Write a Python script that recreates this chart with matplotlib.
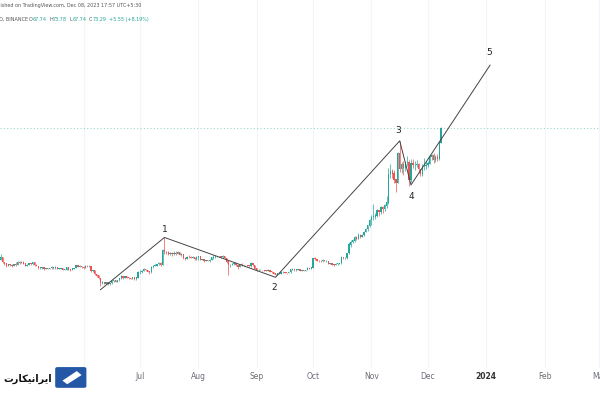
import numpy as np
import pandas as pd
import matplotlib
matplotlib.use("Agg")
from matplotlib import pyplot as plt
import matplotlib.dates as mdates
from matplotlib.patches import FancyBboxPatch, Polygon

# daily SOL candles, 2023-04-18 .. 2023-12-08
start_date = "2023-04-18"
first_open = 23.4

closes = [
    # Apr
    24.3, 22.4, 21.9, 21.0, 21.5, 21.4, 21.0, 21.6, 21.3, 22.4, 22.2, 22.5, 21.9,
    # May
    21.1, 21.4, 21.9, 21.6, 22.3, 21.2, 21.0, 20.1, 20.3, 20.4,
    19.8, 20.1, 20.0, 20.1, 20.5, 20.2, 20.6, 19.9, 20.0, 20.1,
    19.6, 19.6, 20.5, 19.6, 19.4, 20.0, 20.2, 21.3, 20.7, 20.9, 20.6,
    # Jun
    20.4, 21.0, 20.8, 20.9, 19.0, 19.3, 17.8, 17.3, 16.4, 14.6,
    14.7, 14.3, 14.6, 14.1, 14.5, 15.3, 15.4, 15.1, 15.5, 16.2,
    17.0, 16.4, 16.9, 16.6, 16.4, 16.2, 16.6, 15.9, 16.6, 18.6,
    # Jul
    18.7, 19.1, 19.6, 19.3, 18.8, 18.6, 20.6, 21.0, 21.1, 21.6,
    22.0, 21.3, 26.9, 26.3, 26.0, 25.6, 25.9, 25.4, 25.9, 25.7,
    26.2, 25.3, 25.3, 23.9, 23.6, 24.4, 24.3, 24.2, 24.3, 23.5, 24.3,
    # Aug
    24.5, 23.3, 23.5, 22.8, 23.0, 22.9, 23.2, 24.2, 24.3, 24.6,
    24.6, 24.6, 24.3, 24.7, 23.9, 22.6, 21.3, 21.4, 21.6, 21.9,
    21.3, 20.7, 21.7, 21.3, 21.3, 21.2, 21.1, 20.8, 22.1, 21.3, 20.0,
    # Sep
    19.4, 19.5, 19.5, 19.3, 19.2, 19.1, 19.5, 18.8, 18.7, 18.0,
    17.4, 18.1, 18.1, 18.6, 18.6, 18.4, 18.3, 18.6, 19.6, 19.7,
    19.3, 19.6, 19.6, 19.1, 19.3, 19.2, 19.4, 20.2, 19.9, 20.4,
    # Oct
    23.8, 23.5, 22.9, 22.8, 22.7, 23.2, 22.9, 22.9, 21.9, 22.0,
    21.5, 21.4, 21.7, 21.9, 22.0, 24.1, 24.0, 24.0, 25.9, 29.1,
    30.1, 30.6, 31.8, 31.3, 32.6, 32.1, 32.7, 33.9, 34.9, 36.3, 38.3,
    # Nov
    39.4, 39.7, 40.1, 42.0, 41.4, 43.3, 42.5, 43.8, 45.0, 55.8,
    56.9, 56.0, 53.7, 52.6, 63.8, 57.7, 59.4, 58.0, 60.0, 60.3,
    53.4, 60.0, 59.2, 59.2, 59.5, 57.7, 56.0, 58.7, 59.0, 59.2,
    # Dec
    59.8, 62.4, 62.9, 61.0, 62.3, 61.7, 67.74, 73.29,
]

highs = [
    25.4, 24.5, 22.6, 22.1, 21.8, 21.8, 21.6, 21.9, 22.5, 22.9, 22.7, 22.8, 22.7,
    22.0, 21.6, 22.2, 22.1, 22.6, 22.5, 21.6, 21.1, 20.6, 20.7,
    20.5, 20.3, 20.3, 20.3, 20.8, 20.6, 20.8, 20.7, 20.2, 20.3,
    20.2, 19.9, 20.7, 20.6, 19.8, 20.2, 20.4, 21.5, 21.5, 21.2, 21.0,
    20.8, 21.4, 21.2, 21.3, 21.0, 19.6, 19.5, 17.9, 17.6, 16.5,
    15.2, 15.0, 14.9, 14.8, 14.7, 15.6, 15.8, 15.6, 15.7, 16.5,
    17.5, 17.3, 17.2, 17.2, 16.8, 16.6, 16.9, 16.7, 16.8, 18.9,
    19.3, 19.3, 20.1, 19.9, 19.4, 19.1, 20.8, 21.4, 21.6, 21.9,
    22.4, 22.4, 27.5, 31.8, 26.7, 26.7, 26.4, 26.2, 26.6, 26.5,
    26.6, 26.3, 25.8, 25.4, 24.3, 24.7, 25.3, 24.6, 24.7, 24.4, 24.6,
    24.7, 24.8, 23.8, 23.6, 23.2, 23.1, 23.5, 24.5, 25.0, 25.2,
    24.9, 24.8, 24.8, 25.0, 24.9, 24.0, 22.7, 21.8, 22.0, 22.2,
    22.0, 21.4, 21.9, 22.0, 21.5, 21.4, 21.3, 21.2, 22.6, 22.3, 21.4,
    20.1, 19.7, 19.7, 19.6, 19.4, 19.4, 19.7, 19.6, 18.9, 18.8,
    18.1, 18.4, 18.4, 18.9, 18.9, 18.7, 18.5, 18.8, 19.9, 20.1,
    19.8, 19.8, 19.8, 19.7, 19.5, 19.4, 19.6, 20.5, 20.4, 20.6,
    24.0, 24.3, 23.7, 23.2, 23.3, 23.5, 23.4, 23.2, 22.9, 22.3,
    22.1, 21.7, 22.0, 22.1, 22.3, 24.6, 24.5, 24.5, 26.0, 29.9,
    31.0, 31.3, 32.3, 32.5, 33.3, 33.2, 33.0, 34.2, 35.2, 36.6, 38.8,
    40.3, 44.5, 41.0, 42.4, 42.3, 43.6, 43.7, 44.3, 47.5, 58.1,
    59.5, 57.9, 57.3, 53.9, 64.2, 68.2, 60.5, 60.9, 60.8, 62.7,
    61.2, 61.5, 61.4, 60.8, 61.1, 60.0, 57.9, 59.7, 61.8, 60.8,
    60.8, 63.0, 63.6, 63.8, 63.1, 63.3, 68.4, 73.78,
]

lows = [
    23.2, 22.1, 21.3, 20.5, 20.9, 21.1, 20.7, 20.9, 20.9, 21.2, 21.9, 22.1, 21.7,
    20.8, 20.9, 21.2, 21.4, 21.5, 21.1, 20.8, 19.9, 19.9, 20.0,
    19.6, 19.7, 19.9, 19.9, 20.0, 20.0, 20.0, 19.8, 19.8, 19.9,
    19.5, 19.4, 19.5, 19.4, 19.1, 19.3, 19.9, 20.1, 20.5, 20.5, 20.3,
    20.0, 20.3, 20.6, 20.6, 18.8, 18.7, 17.6, 17.0, 16.2, 13.3,
    14.2, 14.0, 14.1, 13.8, 13.9, 14.3, 15.0, 14.9, 14.9, 15.4,
    16.0, 16.2, 16.3, 16.3, 16.0, 15.9, 16.1, 15.8, 15.8, 16.5,
    18.1, 18.5, 18.9, 19.0, 18.6, 17.8, 18.5, 20.4, 20.8, 20.8,
    21.5, 21.0, 21.2, 25.5, 25.4, 25.1, 25.0, 24.8, 25.1, 25.0,
    25.4, 25.1, 24.8, 23.6, 23.2, 23.5, 24.0, 23.9, 24.0, 23.3, 23.3,
    23.2, 23.1, 23.1, 22.6, 22.7, 22.7, 22.6, 23.1, 23.8, 24.0,
    24.3, 24.3, 24.1, 24.0, 23.7, 22.3, 17.5, 20.6, 21.2, 21.3,
    21.1, 19.9, 20.5, 21.0, 21.0, 21.0, 20.9, 20.6, 20.7, 21.1, 19.8,
    19.2, 19.2, 19.3, 19.1, 18.9, 18.9, 19.0, 18.7, 18.5, 17.8,
    17.2, 17.4, 17.8, 18.0, 18.3, 18.2, 18.1, 18.2, 18.5, 19.3,
    19.1, 19.1, 19.4, 19.0, 18.9, 19.0, 19.1, 19.3, 19.7, 19.8,
    20.3, 23.2, 22.7, 22.5, 22.4, 22.6, 22.8, 22.6, 21.7, 21.7,
    21.2, 21.1, 21.2, 21.5, 21.7, 21.8, 23.6, 23.5, 23.7, 25.6,
    28.0, 29.6, 30.1, 30.8, 31.2, 31.5, 31.8, 32.4, 33.7, 34.4, 35.7,
    36.6, 38.4, 38.7, 39.7, 40.0, 40.8, 41.0, 41.9, 43.1, 44.4,
    54.5, 54.3, 52.6, 48.9, 52.5, 56.5, 56.2, 55.5, 56.9, 58.9,
    51.3, 52.9, 58.2, 57.3, 58.5, 56.1, 54.9, 55.1, 57.2, 57.8,
    58.6, 59.5, 61.0, 59.9, 60.3, 60.9, 61.3, 67.74,
]

# elliott wave count drawn on the chart
wave_dates = ["2023-06-10", "2023-07-14", "2023-09-11", "2023-11-16", "2023-11-22", "2024-01-03"]
wave_prices = [12.0, 31.8, 16.7, 68.4, 51.7, 97.1]
wave_labels = ["", "1", "2", "3", "4", "5"]

# Jun label sits under the logo in the screenshot, so it is left blank
month_ticks = ["2023-06-01", "2023-07-01", "2023-08-01", "2023-09-01", "2023-10-01",
               "2023-11-01", "2023-12-01", "2024-01-01", "2024-02-01", "2024-03-01"]
month_labels = ["", "Jul", "Aug", "Sep", "Oct", "Nov", "Dec", "2024", "Feb", "Mar"]

header_vals = [("O", "67.74"), ("H", "73.78"), ("L", "67.74"), ("C", "73.29")]
header_change = "+5.55 (+8.19%)"

last_close = closes[-1]

GREEN = "#26a69a"
RED = "#ef5350"

dates = pd.date_range(start_date, periods=len(closes))
x = mdates.date2num(dates)
c = np.array(closes)
h = np.array(highs)
l = np.array(lows)
o = np.array([first_open] + closes[:-1])
up = c >= o
colors = np.where(up, GREEN, RED)

fig = plt.figure(figsize=(6, 3.99), dpi=100)
ax = fig.add_axes([0, 0.078, 1, 0.922])

# x scale: Jul 1 sits at 140 px, 1.882 px per day
px_day = 1.882
x_left = mdates.date2num(pd.Timestamp("2023-07-01")) - 140 / px_day
ax.set_xlim(x_left, x_left + 600 / px_day)
ax.set_ylim(-17.62, 121.77)

tick_x = mdates.date2num(pd.to_datetime(month_ticks))
for tx in tick_x:
    ax.axvline(tx, color="#f2f4f9", lw=0.8, zorder=0)

ax.axhline(last_close, color=GREEN, lw=0.8, ls=(0, (1, 2)), alpha=0.45, zorder=1)

ax.vlines(x, l, h, colors=colors, lw=0.5, zorder=2)
ax.bar(x, np.abs(c - o) + 0.15, bottom=np.minimum(o, c), width=0.7,
       color=colors, edgecolor="none", zorder=3)

wx = mdates.date2num(pd.to_datetime(wave_dates))
ax.plot(wx, wave_prices, color="#444444", lw=0.7, zorder=4)
offsets = [(0, 0), (0, 5.5), (-1, -7.5), (-1, 7.5), (0, -8.5), (-1, 9)]
for xi, yi, lab, off in zip(wx, wave_prices, wave_labels, offsets):
    if lab:
        ax.annotate(lab, (xi, yi), xytext=off, textcoords="offset points",
                    ha="center", va="center", fontsize=6.5, color="#222222")

ax.set_xticks(tick_x)
ax.set_xticklabels(month_labels)
ax.tick_params(axis="x", length=0, pad=3, labelsize=5.5, labelcolor="#6b6e78")
ax.get_xticklabels()[7].set_fontweight("bold")
ax.get_xticklabels()[7].set_color("#333333")
ax.set_yticks([])
for s in ax.spines.values():
    s.set_visible(False)

# header lines (left part is cropped off in the screenshot)
fs = 3.5
fig.text(-0.016, 0.985, "Published on TradingView.com, Dec 08, 2023 17:57 UTC+5:30",
         fontsize=fs, color="#555555", va="center")
fig.text(-0.006, 0.952, "1D, BINANCE", fontsize=fs, color="#555555", va="center")
xpos = 29 / 600
for k, v in header_vals:
    fig.text(xpos, 0.952, k, fontsize=fs, color="#555555", va="center")
    fig.text(xpos + 3.5 / 600, 0.952, v, fontsize=fs, color=GREEN, va="center")
    xpos += 20 / 600
fig.text(xpos, 0.952, header_change, fontsize=fs, color=GREEN, va="center")

# logo
fig.patches.append(FancyBboxPatch((0.096, 0.032), 0.044, 0.044,
                                  boxstyle="round,pad=0.004", transform=fig.transFigure,
                                  facecolor="#2457a6", edgecolor="none"))
fig.patches.append(Polygon([[0.104, 0.046], [0.128, 0.07], [0.136, 0.06], [0.112, 0.037]],
                           closed=True, transform=fig.transFigure,
                           facecolor="white", edgecolor="none"))
fig.text(0.087, 0.05, "\uFE95\uFEAD\uFE8E\uFB91\uFBFF\uFEE7\uFE8D\uFEAE\uFBFE\uFE8D",
         fontsize=7, fontweight="bold", color="#111111", ha="right", va="center",
         family=["DejaVu Sans"])

fig.savefig("out.png", dpi=100, facecolor="white")
